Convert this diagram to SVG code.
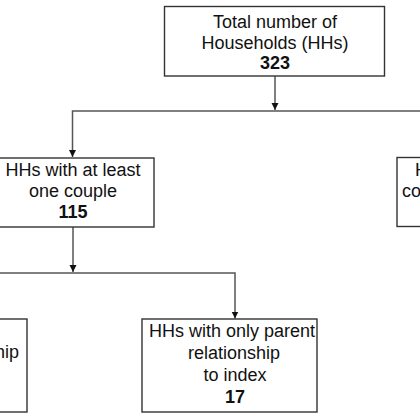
<svg xmlns="http://www.w3.org/2000/svg" width="420" height="420" viewBox="0 0 420 420">
<defs>
<style>
.box{fill:#fff;stroke:#333;stroke-width:1.4}
.t{font-family:"Liberation Sans",Arial,sans-serif;font-size:18px;fill:#111;text-anchor:middle}
.b{font-weight:bold}
.c{fill:none;stroke:#555;stroke-width:1.5}
</style>
<marker id="ah" viewBox="0 0 10 10" refX="10" refY="5" markerWidth="7" markerHeight="8" markerUnits="userSpaceOnUse" orient="auto">
<path d="M0,0 L10,5 L0,10 z" fill="#111"/>
</marker>
</defs>
<rect width="420" height="420" fill="#fff"/>
<g id="connectors">
<path class="c" d="M275,76 V110" marker-end="url(#ah)"/>
<path class="c" d="M420,111 H72.5 V157" marker-end="url(#ah)"/>
<path class="c" d="M73,227 V272" marker-end="url(#ah)"/>
<path class="c" d="M0,273 H235 V318.5" marker-end="url(#ah)"/>
</g>
<g id="total">
<rect class="box" x="164.5" y="6.5" width="220" height="69.5"/>
<text class="t" x="275" y="28">Total number of</text>
<text class="t" x="275" y="48.5">Households (HHs)</text>
<text class="t b" x="275" y="69">323</text>
</g>
<g id="couple">
<rect class="box" x="-8" y="158" width="162" height="69"/>
<text class="t" x="73" y="175.5">HHs with at least</text>
<text class="t" x="73" y="196.5">one couple</text>
<text class="t b" x="73" y="217.5">115</text>
</g>
<g id="right">
<rect class="box" x="397" y="157.5" width="162" height="69"/>
<text class="t" x="415" y="175.5" style="text-anchor:start">H</text>
<text class="t" x="402" y="196.5" style="text-anchor:start">co</text>
</g>
<g id="left">
<rect class="box" x="-148" y="319" width="175" height="93"/>
<text class="t" x="19" y="358" style="text-anchor:end">hip</text>
</g>
<g id="parent">
<rect class="box" x="142" y="319" width="175" height="93"/>
<text class="t" x="232" y="337">HHs with only parent</text>
<text class="t" x="234" y="359">relationship</text>
<text class="t" x="235" y="381">to index</text>
<text class="t b" x="235" y="403">17</text>
</g>
</svg>
